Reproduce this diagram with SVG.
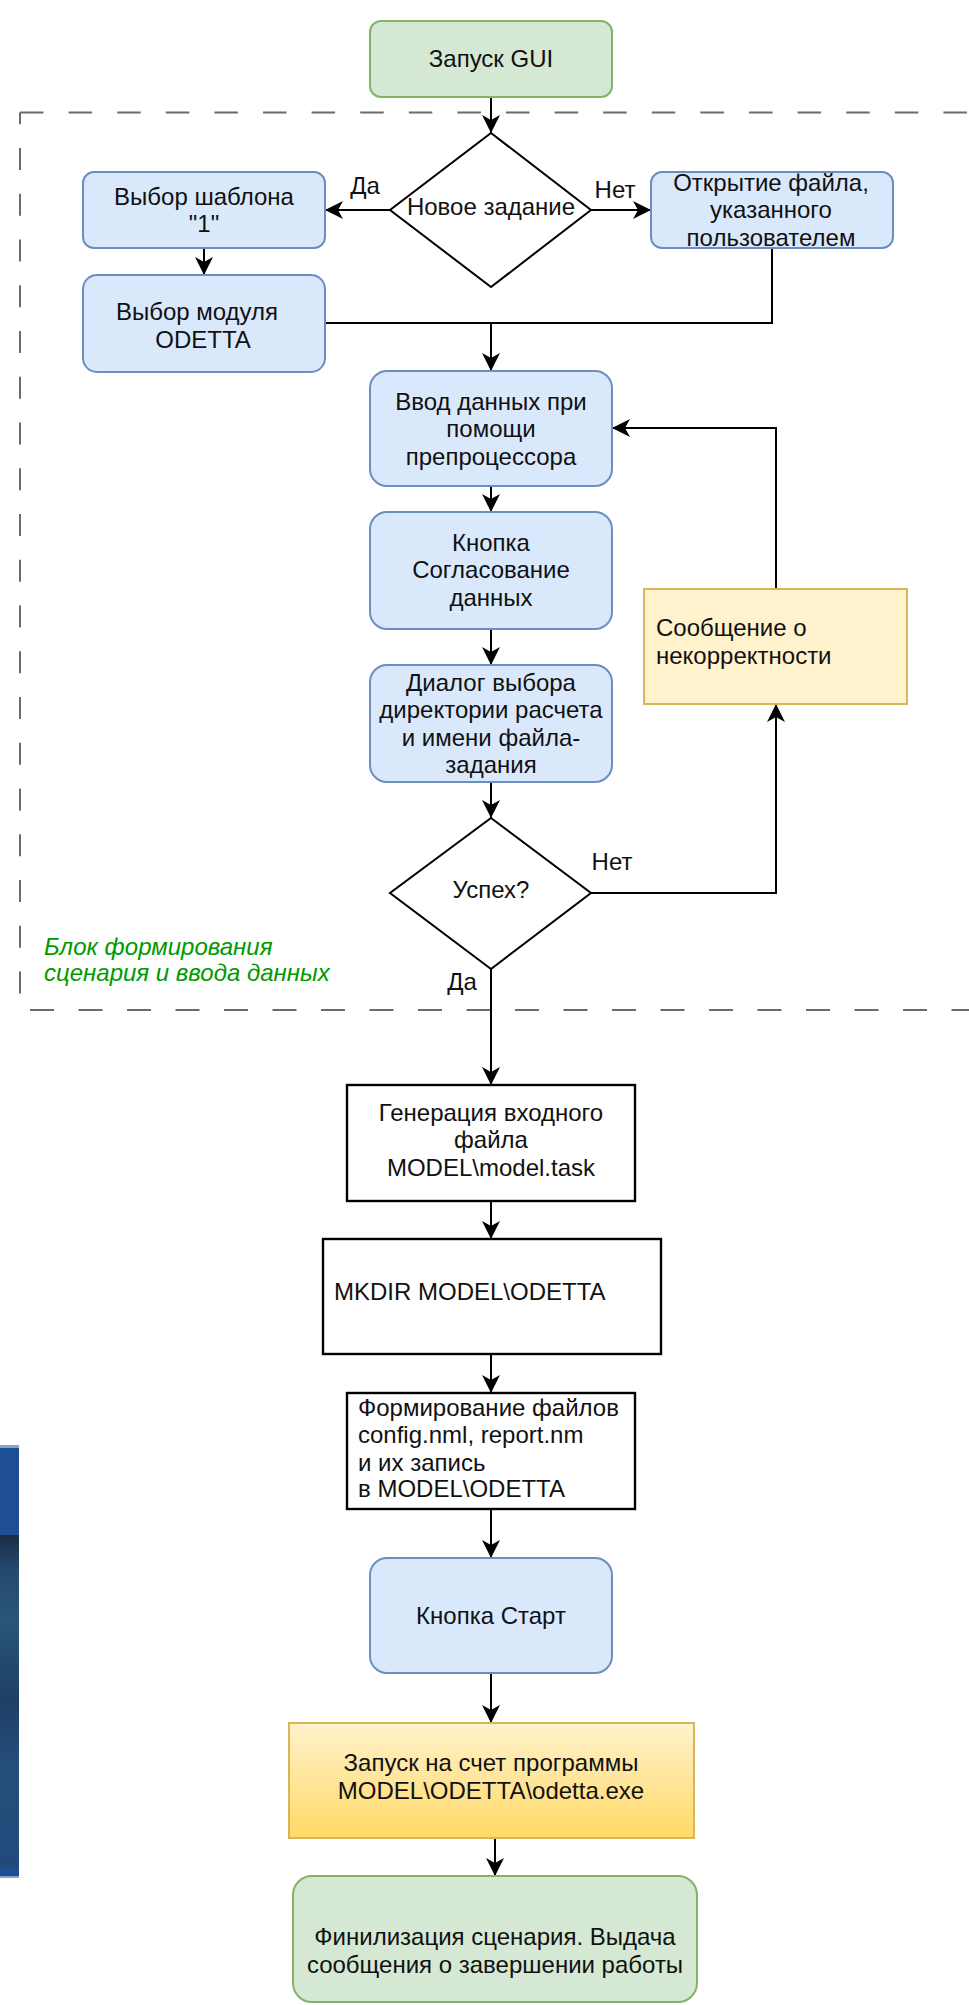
<svg xmlns="http://www.w3.org/2000/svg" width="969" height="2005" viewBox="0 0 969 2005">
<style>
  text { font-family: "Liberation Sans", Arial, sans-serif; font-size: 24px; fill: #111; }
  .c { text-anchor: middle; }
  .blue { fill: #dae8fc; stroke: #6c8ebf; stroke-width: 2; }
  .green { fill: #d5e8d4; stroke: #82b366; stroke-width: 2; }
  .yellow { fill: #fff2cc; stroke: #d6b656; stroke-width: 2; }
  .plain { fill: #ffffff; stroke: #000; stroke-width: 2.4; }
  .dia { fill: #ffffff; stroke: #000; stroke-width: 2; }
  .edge { fill: none; stroke: #000; stroke-width: 2; }
  .arr { marker-end: url(#ah); }
  .dash { fill: none; stroke: #6b6b6b; stroke-width: 2; }
  .note { fill: #009900; font-style: italic; }
</style>
<defs>
  <marker id="ah" viewBox="-19 -10 21 20" markerWidth="21" markerHeight="20" refX="0" refY="0" orient="auto" markerUnits="userSpaceOnUse">
    <path d="M0,0 L-18,-9 L-13,0 L-18,9 Z" fill="#000"/>
  </marker>
  <linearGradient id="gy" x1="0" y1="0" x2="0" y2="1">
    <stop offset="0" stop-color="#fff2cc"/>
    <stop offset="1" stop-color="#ffd966"/>
  </linearGradient>
  <linearGradient id="strip" x1="0" y1="0" x2="0" y2="1">
    <stop offset="0" stop-color="#1a2c43"/>
    <stop offset="0.1" stop-color="#24496c"/>
    <stop offset="0.25" stop-color="#29567a"/>
    <stop offset="0.5" stop-color="#1f3f66"/>
    <stop offset="0.7" stop-color="#254f7c"/>
    <stop offset="1" stop-color="#21497a"/>
  </linearGradient>
</defs>

<g id="bg-strip">
  <rect x="0" y="1445" width="19" height="3" fill="#8aa3c4"/>
  <rect x="0" y="1448" width="19" height="87" fill="#1f4f93"/>
  <rect x="0" y="1535" width="19" height="332" fill="url(#strip)"/>
  <rect x="0" y="1867" width="19" height="9" fill="#1e4f92"/>
  <rect x="0" y="1876" width="19" height="2" fill="#8aa3c4"/>
</g>

<g id="group-border">
  <path class="dash" d="M20,112.5 H969" stroke-dasharray="23.5 25.1"/>
  <path class="dash" d="M20,112.5 V1010" stroke-dasharray="22 23.75" stroke-dashoffset="10.25"/>
  <path class="dash" d="M30,1010 H969" stroke-dasharray="24 24.5"/>
  <text class="note" x="44" y="955">Блок формирования</text>
  <text class="note" x="44" y="981">сценария и ввода данных</text>
</g>

<g id="connectors">
  <path class="edge arr" d="M491,97 V133"/>
  <path class="edge arr" d="M390,210 H325"/>
  <path class="edge arr" d="M591,210 H651"/>
  <path class="edge arr" d="M204,248 V275"/>
  <path class="edge arr" d="M325,323 H491 V371"/>
  <path class="edge" d="M772,248 V323 H491"/>
  <path class="edge arr" d="M491,486 V512"/>
  <path class="edge arr" d="M491,629 V665"/>
  <path class="edge arr" d="M491,782 V818"/>
  <path class="edge arr" d="M591,893 H776 V704"/>
  <path class="edge arr" d="M776,589 V428 H612"/>
  <path class="edge arr" d="M491,969 V1085"/>
  <path class="edge arr" d="M491,1201 V1239"/>
  <path class="edge arr" d="M491,1354 V1393"/>
  <path class="edge arr" d="M491,1509 V1558"/>
  <path class="edge arr" d="M491,1673 V1723"/>
  <path class="edge arr" d="M495,1838 V1876"/>
  <text class="c" x="365" y="194">Да</text>
  <text class="c" x="615" y="198">Нет</text>
  <text class="c" x="612" y="870">Нет</text>
  <text class="c" x="462" y="990">Да</text>
</g>

<g id="start">
  <rect class="green" x="370" y="21" width="242" height="76" rx="11"/>
  <text class="c" x="491" y="67">Запуск GUI</text>
</g>

<g id="new-task">
  <polygon class="dia" points="491,133 591,210 491,287 390,210"/>
  <text class="c" x="491" y="215">Новое задание</text>
</g>

<g id="template">
  <rect class="blue" x="83" y="172" width="242" height="76" rx="11"/>
  <text class="c" x="204" y="205">Выбор шаблона</text>
  <text class="c" x="204" y="232">"1"</text>
</g>

<g id="module">
  <rect class="blue" x="83" y="275" width="242" height="97" rx="14"/>
  <text class="c" x="197" y="320">Выбор модуля</text>
  <text class="c" x="203" y="348">ODETTA</text>
</g>

<g id="open-file">
  <rect class="blue" x="651" y="172" width="242" height="76" rx="11"/>
  <text class="c" x="771" y="191">Открытие файла,</text>
  <text class="c" x="771" y="218">указанного</text>
  <text class="c" x="771" y="246">пользователем</text>
</g>

<g id="input">
  <rect class="blue" x="370" y="371" width="242" height="115" rx="17"/>
  <text class="c" x="491" y="410">Ввод данных при</text>
  <text class="c" x="491" y="437">помощи</text>
  <text class="c" x="491" y="465">препроцессора</text>
</g>

<g id="agree">
  <rect class="blue" x="370" y="512" width="242" height="117" rx="17"/>
  <text class="c" x="491" y="551">Кнопка</text>
  <text class="c" x="491" y="578">Согласование</text>
  <text class="c" x="491" y="606">данных</text>
</g>

<g id="dialog">
  <rect class="blue" x="370" y="665" width="242" height="117" rx="17"/>
  <text class="c" x="491" y="691">Диалог выбора</text>
  <text class="c" x="491" y="718">директории расчета</text>
  <text class="c" x="491" y="746">и имени файла-</text>
  <text class="c" x="491" y="773">задания</text>
</g>

<g id="error-msg">
  <rect class="yellow" x="644" y="589" width="263" height="115"/>
  <text x="656" y="636">Сообщение о</text>
  <text x="656" y="664">некорректности</text>
</g>

<g id="success">
  <polygon class="dia" points="491,818 591,893 491,969 390,893"/>
  <text class="c" x="491" y="898">Успех?</text>
</g>

<g id="generate">
  <rect class="plain" x="347" y="1085" width="288" height="116"/>
  <text class="c" x="491" y="1121">Генерация входного</text>
  <text class="c" x="491" y="1148">файла</text>
  <text class="c" x="491" y="1176">MODEL\model.task</text>
</g>

<g id="mkdir">
  <rect class="plain" x="323" y="1239" width="338" height="115"/>
  <text x="334" y="1300">MKDIR MODEL\ODETTA</text>
</g>

<g id="form-files">
  <rect class="plain" x="347" y="1393" width="288" height="116"/>
  <text x="358" y="1416">Формирование файлов</text>
  <text x="358" y="1443">config.nml, report.nm</text>
  <text x="358" y="1471">и их запись</text>
  <text x="358" y="1497">в MODEL\ODETTA</text>
</g>

<g id="start-btn">
  <rect class="blue" x="370" y="1558" width="242" height="115" rx="17"/>
  <text class="c" x="491" y="1624">Кнопка Старт</text>
</g>

<g id="run">
  <rect x="289" y="1723" width="405" height="115" fill="url(#gy)" stroke="#d6b656" stroke-width="2"/>
  <text class="c" x="491" y="1771">Запуск на счет программы</text>
  <text class="c" x="491" y="1799">MODEL\ODETTA\odetta.exe</text>
</g>

<g id="finish">
  <rect class="green" x="293" y="1876" width="404" height="126" rx="19"/>
  <text class="c" x="495" y="1945">Финилизация сценария. Выдача</text>
  <text class="c" x="495" y="1973">сообщения о завершении работы</text>
</g>
</svg>
